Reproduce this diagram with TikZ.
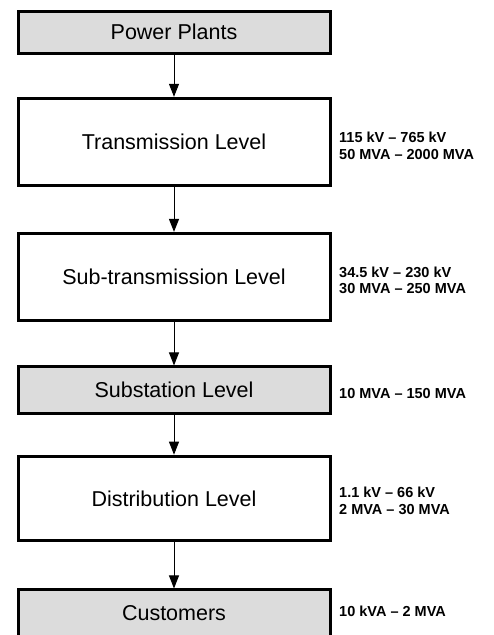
\documentclass[tikz,border=0pt]{standalone}
\usepackage{fontspec}
\setmainfont{Liberation Sans}
\usetikzlibrary{arrows.meta}
\definecolor{boxgray}{RGB}{220,220,220}
\begin{document}
\begin{tikzpicture}[x=1pt,y=-1pt,
 lvl/.style={draw,line width=3pt,minimum width=312pt,inner sep=0pt,font=\fontsize{21.5}{25}\selectfont},
 shaded/.style={lvl,fill=boxgray},
 rate/.style={anchor=west,align=left,inner sep=0pt,font=\fontsize{14.5}{16.5}\selectfont\bfseries},
 flow/.style={line width=1pt,-{Triangle[length=13pt,width=10pt]}}]
 \useasboundingbox (0,0) rectangle (493,635);
 \node[shaded,minimum height=42pt] (plants) at (174,32) {Power Plants};
 \node[lvl,minimum height=87.4pt] (trans) at (174,142) {Transmission Level};
 \node[lvl,minimum height=87.2pt] (subtrans) at (174,277) {Sub-transmission Level};
 \node[shaded,minimum height=46.7pt] (substat) at (174,390.3) {Substation Level};
 \node[lvl,minimum height=84.6pt] (distrib) at (174,498.5) {Distribution Level};
 \node[shaded,minimum height=46.5pt] (cust) at (174,613.2) {Customers};
 \draw[flow] (plants) -- (trans);
 \draw[flow] (trans) -- (subtrans);
 \draw[flow] (subtrans) -- (substat);
 \draw[flow] (substat) -- (distrib);
 \draw[flow] (distrib) -- (cust);
 \node[rate] (transrate) at (339,146) {115 kV – 765 kV\\50 MVA – 2000 MVA};
 \node[rate] (subtransrate) at (339,280.5) {34.5 kV – 230 kV\\30 MVA – 250 MVA};
 \node[rate] (substatrate) at (339,394) {10 MVA – 150 MVA};
 \node[rate] (distribrate) at (339,501) {1.1 kV – 66 kV\\2 MVA – 30 MVA};
 \node[rate] (custrate) at (339,611.7) {10 kVA – 2 MVA};
\end{tikzpicture}
\end{document}
